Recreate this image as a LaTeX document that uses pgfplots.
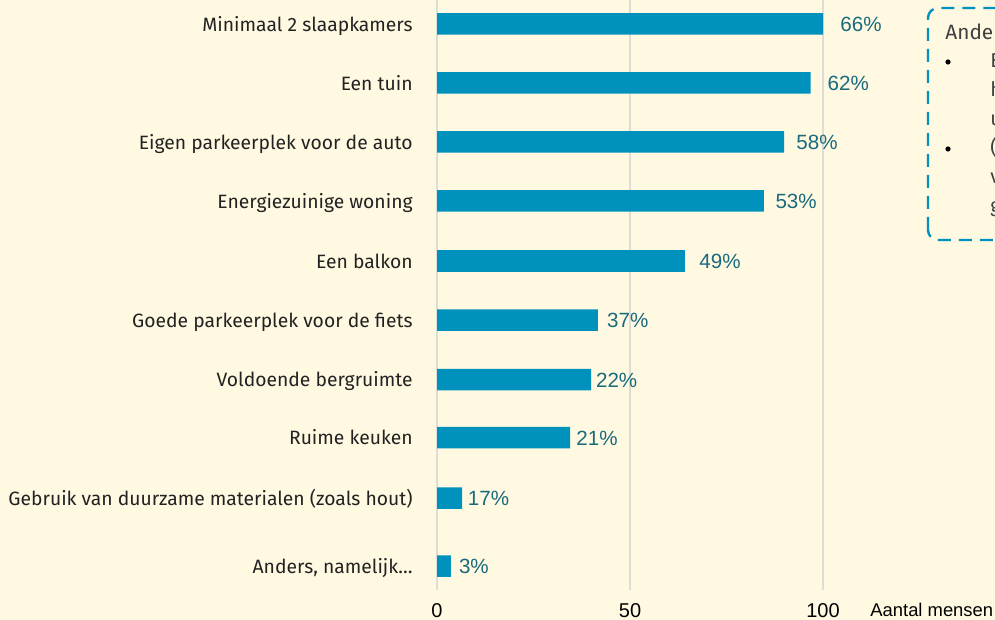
\documentclass[border=0pt]{standalone}
\usepackage{pgfplots}
\pgfplotsset{compat=1.18}
\usepackage{pgfplotstable}
\usepackage{fontspec}
\setmainfont{Fira Sans}
\newfontfamily\arial{Liberation Sans}
\definecolor{bgcream}{HTML}{FFF9E2}
\definecolor{barblue}{HTML}{0092BD}
\definecolor{labteal}{HTML}{1A6A7E}
\definecolor{gridgrey}{HTML}{DEDCD6}
\definecolor{txt}{HTML}{222222}

\pgfplotstableread{
y     value
24    100
83    96.8
142   89.9
201   84.7
261   64.2
320   41.7
379.5 39.9
437.5 34.5
498   6.5
566   3.6
}\bars

\pgfplotstableread{
y     lx    label
24    104.4 66\%
83    101.1 62\%
142   93.0  58\%
201   87.6  53\%
261   67.9  49\%
320   44.0  37\%
379.5 41.1  22\%
437.5 36.0  21\%
498   7.9   17\%
566   5.6   3\%
}\labels

\begin{document}
\begin{tikzpicture}
\useasboundingbox (0,0) rectangle (497.5pt,310pt);
\fill[bgcream] (0,0) rectangle (497.5pt,310pt);
\begin{axis}[
  at={(218.5pt,15pt)}, anchor=south west,
  scale only axis, width=193pt, height=295pt,
  xmin=0, xmax=100, ymin=0, ymax=590, y dir=reverse,
  clip=false,
  axis line style={draw=none},
  major tick length=0pt,
  xmajorgrids, grid style={color=gridgrey, line width=1pt},
  xtick={0,50,100},
  /pgf/number format/assume math mode=true,
  xticklabel style={font=\arial\fontsize{10}{12}\selectfont, anchor=base, yshift=-13.5pt, text=black},
  ytick={24,83,142,201,261,320,379.5,437.5,498,566},
  yticklabels={Minimaal 2 slaapkamers, Een tuin, Eigen parkeerplek voor de auto, Energiezuinige woning, Een balkon, Goede parkeerplek voor de fiets, Voldoende bergruimte, Ruime keuken, Gebruik van duurzame materialen (zoals hout), {Anders, namelijk\dots}},
  yticklabel style={font=\fontsize{9.65}{12}\selectfont, text=txt, anchor=base east, inner sep=0pt, xshift=-12pt, yshift=-3.6pt},
]
\addplot[xbar, bar width=21.5, fill=barblue, draw=none] table[x=value, y=y] {\bars};
\addplot[draw=none, mark=none, nodes near coords, point meta=explicit symbolic,
  nodes near coords style={anchor=base west, inner sep=0pt, yshift=-3.75pt, font=\arial\fontsize{10.3}{12}\selectfont, text=labteal}]
  table[x=lx, y=y, meta=label] {\labels};
\end{axis}
\node[anchor=base west, inner sep=0pt, font=\arial\fontsize{9.2}{11}\selectfont] at (435pt,1.5pt) {Aantal mensen};
\draw[barblue, line width=1.2pt, dash pattern=on 6.5pt off 4pt, rounded corners=5pt] (464pt,190pt) rectangle (580pt,306pt);
\node[anchor=base west, inner sep=0pt, text=black!75, font=\fontsize{10.4}{12}\selectfont] at (472.5pt,290pt) {Anders, namelijk:};
\fill[black] (474pt,279pt) circle (1.3pt);
\fill[black] (474pt,235.5pt) circle (1.3pt);
\begin{scope}[every node/.style={anchor=base west, inner sep=0pt, text=black!75, font=\fontsize{10}{12}\selectfont}]
\node at (495pt,276pt) {Extra kamer voor};
\node at (495pt,261.5pt) {hobby of werk,};
\node at (495pt,247pt) {uitbreiding};
\node at (495pt,232.5pt) {(Goede isolatie};
\node at (495pt,218pt) {voor minder};
\node at (495pt,203.5pt) {geluidsoverlast};
\end{scope}
\end{tikzpicture}
\end{document}
